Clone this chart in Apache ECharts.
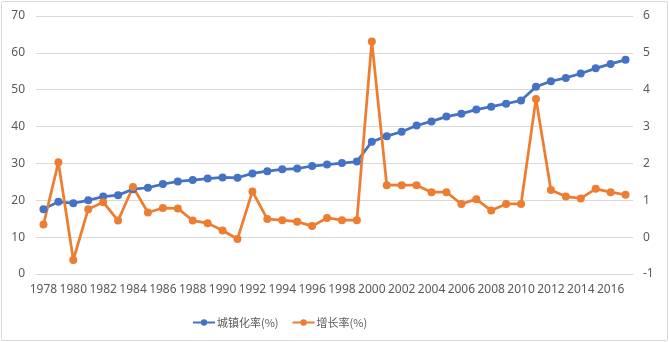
<!DOCTYPE html>
<html><head><meta charset="utf-8">
<script src="https://cdn.jsdelivr.net/npm/echarts@6/dist/echarts.min.js"></script>
<style>
html,body{margin:0;padding:0;background:#fff;}
#wrap{position:absolute;left:1px;top:1px;width:665px;height:338px;border:1px solid #d9d9d9;border-radius:2px;}
#c{position:absolute;left:0;top:0;width:669px;height:342px;}
</style></head>
<body>
<div id="wrap"></div>
<div id="c"></div>
<script>
var years = [];
for (var y = 1978; y <= 2017; y++) years.push(String(y));
var urbanRate = [17.6,19.6,19.2,20.0,21.0,21.4,23.0,23.4,24.4,25.1,25.5,25.9,26.2,26.1,27.3,27.9,28.4,28.6,29.3,29.7,30.1,30.5,35.9,37.4,38.6,40.3,41.4,42.7,43.5,44.6,45.4,46.2,47.1,50.8,52.3,53.2,54.4,55.8,57.0,58.1];
var growthRate = [0.34,2.03,-0.62,0.76,0.95,0.45,1.36,0.67,0.79,0.78,0.45,0.38,0.18,-0.05,1.24,0.49,0.46,0.42,0.30,0.52,0.46,0.46,5.31,1.41,1.41,1.41,1.22,1.22,0.90,1.03,0.72,0.90,0.90,3.75,1.28,1.10,1.05,1.31,1.22,1.15];
var seriesNames = ['城镇化率(%)','增长率(%)'];
var numFont = "'Noto Sans', sans-serif";
var cjkFont = "'Noto Sans CJK SC', sans-serif";
var chart = echarts.init(document.getElementById('c'));
chart.setOption({
  animation:false,
  textStyle:{fontFamily:numFont},
  grid:{left:36,right:36,top:16,bottom:68,containLabel:false},
  legend:{top:312,left:187,itemWidth:22,itemHeight:8,itemGap:13,
    textStyle:{color:'#595959',fontSize:11,fontFamily:cjkFont,padding:[0,0,0,-3]},
    data:seriesNames},
  xAxis:{type:'category',data:years,boundaryGap:true,
    axisLine:{show:true,lineStyle:{color:'#d9d9d9'}},
    axisTick:{show:false},
    axisLabel:{interval:1,color:'#595959',fontSize:12,margin:10,fontFamily:numFont}},
  yAxis:[
    {type:'value',min:0,max:70,interval:10,position:'left',
      axisLine:{show:false},axisTick:{show:false},
      splitLine:{lineStyle:{color:'#d9d9d9'}},
      axisLabel:{color:'#595959',fontSize:12,margin:11,fontFamily:numFont}},
    {type:'value',min:-1,max:6,interval:1,position:'right',
      axisLine:{show:false},axisTick:{show:false},
      splitLine:{show:false},
      axisLabel:{color:'#595959',fontSize:12,margin:10,fontFamily:numFont}}
  ],
  series:[
    {name:seriesNames[0],type:'line',yAxisIndex:0,data:urbanRate,
      symbol:'circle',symbolSize:8,
      lineStyle:{color:'#4472C4',width:2.75},itemStyle:{color:'#4472C4'}},
    {name:seriesNames[1],type:'line',yAxisIndex:1,data:growthRate,
      symbol:'circle',symbolSize:8,
      lineStyle:{color:'#ED7D31',width:2.75},itemStyle:{color:'#ED7D31'}}
  ]
});
</script>
</body></html>
